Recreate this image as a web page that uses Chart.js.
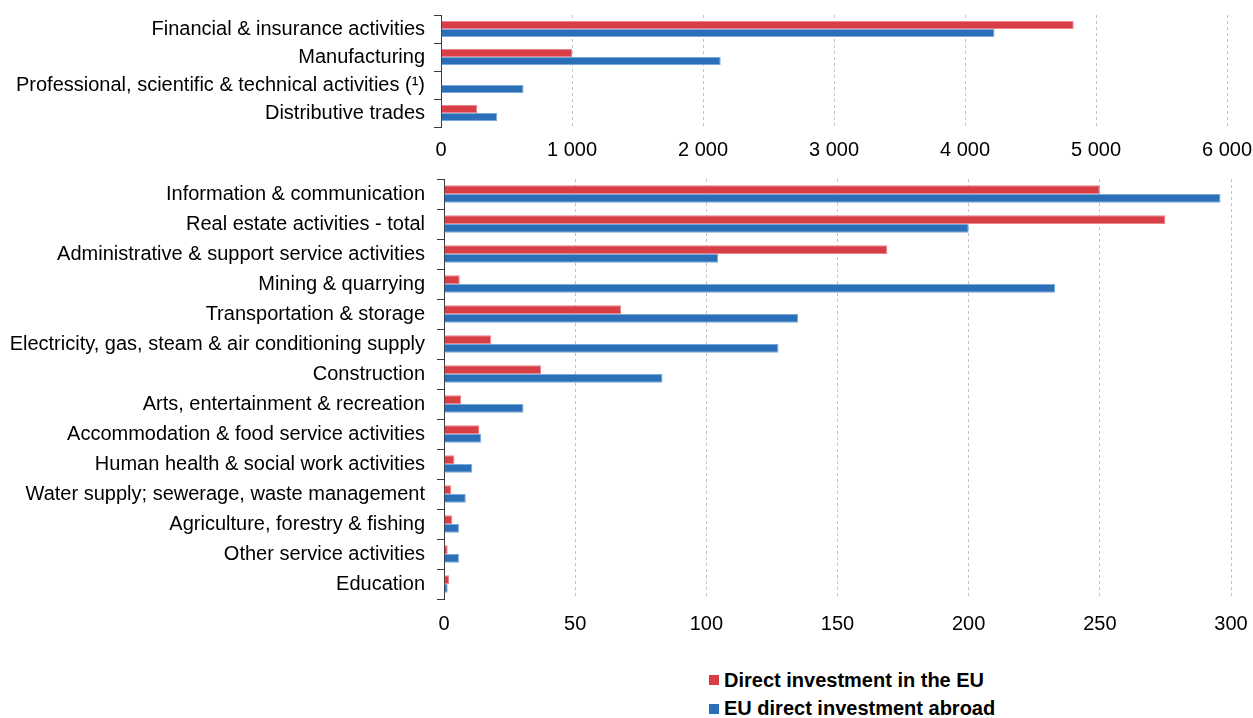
<!DOCTYPE html>
<html>
<head>
<meta charset="utf-8">
<script src="https://cdn.jsdelivr.net/npm/chart.js@4.4.1/dist/chart.umd.min.js"></script>
<style>
  html, body { margin: 0; padding: 0; background: #fff; }
  body { width: 1253px; height: 718px; overflow: hidden; position: relative;
         font-family: "Liberation Sans", Arial, sans-serif; }
  #topBox { position: absolute; left: 0; top: 0; width: 1253px; height: 170px; }
  #bottomBox { position: absolute; left: 0; top: 165px; width: 1253px; height: 480px; }
  #legend { position: absolute; left: 709px; top: 666px; }
  .item { display: flex; align-items: center; height: 28.5px; font-weight: bold;
          font-size: 20px; color: #000; white-space: nowrap; }
  .swatch { width: 10px; height: 10px; margin-right: 5px; }
</style>
</head>
<body>
<div id="topBox"><canvas id="topChart"></canvas></div>
<div id="bottomBox"><canvas id="bottomChart"></canvas></div>
<div id="legend"></div>
<script>
// Series names and colours
const seriesNames = ["Direct investment in the EU", "EU direct investment abroad"];
const seriesColors = ["#d83e45", "#2a6fb7"];
const seriesEdges = ["rgba(232,120,126,0.9)", "rgba(110,160,215,0.9)"];

// Large sectors (upper panel)
const topCategories = [
  "Financial & insurance activities",
  "Manufacturing",
  "Professional, scientific & technical activities (\u00b9)",
  "Distributive trades"
];
const topInward = [4830, 1000, null, 277];
const topOutward = [4225, 2135, 630, 429];
const topTicks = [0, 1000, 2000, 3000, 4000, 5000, 6000];

// Smaller sectors (lower panel)
const bottomCategories = [
  "Information & communication",
  "Real estate activities - total",
  "Administrative & support service activities",
  "Mining & quarrying",
  "Transportation & storage",
  "Electricity, gas, steam & air conditioning supply",
  "Construction",
  "Arts, entertainment & recreation",
  "Accommodation & food service activities",
  "Human health & social work activities",
  "Water supply; sewerage, waste management",
  "Agriculture, forestry & fishing",
  "Other service activities",
  "Education"
];
const bottomInward = [250, 275, 169, 6, 67.5, 18, 37, 6.5, 13.5, 4, 2.8, 3.2, 1.4, 1.9];
const bottomOutward = [296, 200, 104.5, 233, 135, 127.5, 83.3, 30.3, 14.2, 10.8, 8.3, 5.7, 5.7, 1.4];
const bottomTicks = [0, 50, 100, 150, 200, 250, 300];

Chart.defaults.font.family = '"Liberation Sans", Arial, sans-serif';
Chart.defaults.font.size = 20;
Chart.defaults.color = "#000";

const fmt = v => String(v).replace(/\B(?=(\d{3})+(?!\d))/g, "\u00a0");

function makeChart(id, cats, inward, outward, ticks, opts) {
  const step = ticks[1] - ticks[0];
  const ds = (i, data) => ({
    label: seriesNames[i], data, backgroundColor: seriesColors[i],
    borderColor: seriesEdges[i], borderWidth: 1, borderSkipped: "start",
    categoryPercentage: opts.catPct, barPercentage: 1
  });
  return new Chart(document.getElementById(id), {
    type: "bar",
    data: { labels: cats, datasets: [ds(0, inward), ds(1, outward)] },
    options: {
      indexAxis: "y",
      responsive: true,
      maintainAspectRatio: false,
      animation: false,
      layout: { padding: { top: opts.padTop, right: opts.padRight, left: 0, bottom: 0 } },
      plugins: { legend: { display: false }, tooltip: { enabled: false } },
      scales: {
        x: {
          min: ticks[0],
          max: ticks[ticks.length - 1],
          ticks: { stepSize: step, padding: opts.xPad, maxRotation: 0, callback: v => fmt(v) },
          grid: { color: "#c4c4c4", lineWidth: 1, drawTicks: false },
          border: { display: false, dash: [3, 3] },
          afterFit: s => { s.height = opts.xHeight; s.paddingLeft = 0; s.paddingRight = 0; }
        },
        y: {
          ticks: { padding: opts.yPad, autoSkip: false },
          grid: { drawOnChartArea: false, color: "#3a3a3a", tickLength: 7, offset: true },
          border: { color: "#3a3a3a", width: 1 },
          afterFit: s => { s.width = opts.yWidth; s.paddingTop = 0; s.paddingBottom = 0; }
        }
      }
    }
  });
}

makeChart("topChart", topCategories, topInward, topOutward, topTicks,
  { catPct: 0.58, padTop: 15, padRight: 26, xHeight: 43, yWidth: 441, xPad: 11, yPad: 9 });
makeChart("bottomChart", bottomCategories, bottomInward, bottomOutward, bottomTicks,
  { catPct: 0.58, padTop: 14, padRight: 22, xHeight: 46, yWidth: 444, xPad: 13, yPad: 12 });

// Legend
const legend = document.getElementById("legend");
seriesNames.forEach((name, i) => {
  const row = document.createElement("div");
  row.className = "item";
  const sw = document.createElement("span");
  sw.className = "swatch";
  sw.style.background = seriesColors[i];
  row.appendChild(sw);
  row.appendChild(document.createTextNode(name));
  legend.appendChild(row);
});
</script>
</body>
</html>
